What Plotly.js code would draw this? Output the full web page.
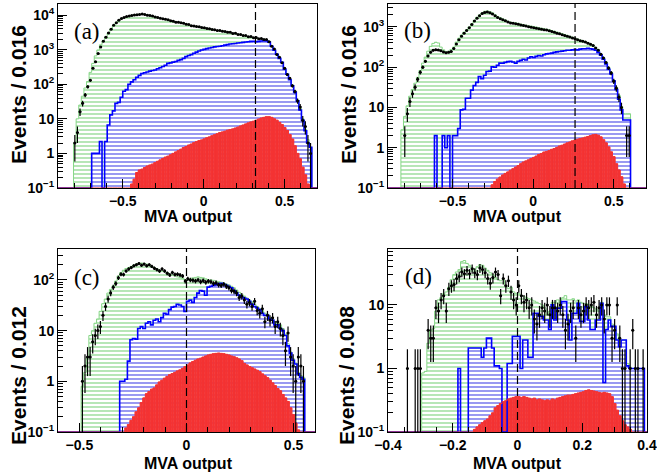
<!DOCTYPE html>
<html><head><meta charset="utf-8">
<script src="https://cdn.plot.ly/plotly-3.0.1.min.js"></script>
<style>html,body{margin:0;padding:0;background:#fff}#chart{width:657px;height:474px}</style>
</head><body><div id="chart"></div>
<script>
// ---------------- data (events per bin, 100 bins per panel) ----------------
const aGreen = [0,0,0,0,0,0,2,10,25,45,
 78,120,220,400,660,980,1380,1820,2340,3020,
 3980,5000,6000,7080,7940,8500,9100,9400,9800,10000,
 10200,10500,10700,10400,10000,9800,9300,8900,8500,8100,
 7800,7600,7250,6900,6600,6300,6150,6000,5750,5500,
 5250,5000,4800,4700,4550,4400,4250,4150,4000,3900,
 3700,3600,3550,3450,3300,3250,3150,3000,2950,2800,
 2700,2600,2500,2400,2350,2250,2200,2100,2050,2000,
 1900,1750,1300,1000,760,575,440,280,200,140,
 95,60,35,20,10,5,2.5,1.5,0,0];
const aBlue = [0,0,0,0,0,0,0,0,0,0,
 0,0,0,1,1,1,2.2,0,2.2,6.6,
 13,17,28,30,42,63,70,100,117,135,
 160,180,205,215,225,240,250,257,280,300,
 325,355,400,415,435,455,490,515,560,630,
 680,720,790,850,910,980,1020,1070,1120,1150,
 1200,1230,1260,1300,1350,1400,1450,1480,1510,1550,
 1580,1620,1660,1700,1740,1750,1700,1730,1780,1820,
 1800,1650,1250,960,740,560,430,270,195,135,
 90,58,33,18,9,4.5,2,1.5,0,0];
const aRed = [0,0,0,0,0,0,0,0,0,0,
 0,0,0,0,0,0,0,0,0,0,
 0,0,0,0,0,0,0,0,0.13,0.18,
 0.28,0.33,0.35,0.39,0.43,0.46,0.49,0.54,0.59,0.65,
 0.71,0.78,0.83,0.91,1.0,1.1,1.2,1.32,1.48,1.58,
 1.74,1.86,2.04,2.19,2.34,2.45,2.63,2.82,3.0,3.24,
 3.47,3.7,3.98,4.17,4.37,4.68,4.9,5.1,5.4,5.75,
 6.2,6.6,7.1,7.6,8.1,8.5,9.1,9.8,10.5,11,
 11.5,11.5,11,10,9.1,7.9,6.8,5.6,4.6,3.5,
 2.6,1.66,1.0,0.7,0.4,0.24,0.13,0,0,0];
const aData = [0,0,0,0,0,0,2,4,16,28,
 49,85,130,290,450,770,1200,1750,2300,3050,
 3900,5050,5950,7100,7900,8550,9050,9450,9750,10050,
 10150,10450,10650,10450,9950,9750,9350,8850,8550,8050,
 7850,7550,7300,6850,6650,6250,6200,5950,5800,5450,
 5300,4950,4850,4650,4600,4350,4300,4100,4050,3850,
 3750,3550,3600,3400,3350,3200,3200,2950,3000,2750,
 2750,2550,2550,2350,2400,2200,2250,2050,2100,1950,
 1950,1700,1250,1050,720,600,420,290,190,150,
 90,62,33,22,9,6,2,1,0,0];

const bGreen = [0,0,0,0,0,2.8,6,11,19,28,
 40,56,83,126,178,250,330,390,417,400,
 316,270,245,250,275,316,420,525,630,740,
 850,1000,1200,1450,1740,2000,2240,2450,2500,2400,
 2240,2000,1820,1700,1580,1480,1380,1320,1290,1260,
 1230,1175,1150,1100,1070,1050,1020,990,960,930,
 900,875,850,810,780,745,710,680,650,615,
 585,555,525,500,475,457,430,405,380,355,
 310,270,215,175,135,100,76,48,32,20,
 10.5,7,7,7,0,0,0,0,0,0];
const bBlue = [0,0,0,0,0,0,0,0,0,0,
 0,0,0,0,0,0,0,0,2,0,
 0,2,1,2,0,2,2,3,8.7,9,
 17,17,27,35,42,59,52,63,78,80,
 102,100,112,126,126,132,138,141,135,126,
 141,148,158,151,170,182,174,186,195,190,
 204,214,219,224,234,240,245,251,257,263,
 263,269,275,269,282,288,288,295,288,282,
 263,234,200,158,120,89,68,46,28,16,
 8.7,4.9,4.9,4.9,0,0,0,0,0,0];
const bRed = [0,0,0,0,0,0,0,0,0,0,
 0,0,0,0,0,0,0,0,0,0,
 0,0,0,0,0,0,0,0,0,0,
 0,0,0,0,0,0,0,0,0,0,
 0.12,0.145,0.166,0.186,0.21,0.23,0.25,0.275,0.30,0.33,
 0.36,0.40,0.44,0.47,0.5,0.54,0.575,0.62,0.68,0.72,
 0.78,0.81,0.85,0.91,0.955,1.02,1.1,1.15,1.23,1.32,
 1.38,1.48,1.55,1.62,1.7,1.74,1.82,1.9,2.0,2.09,
 2.14,2.04,1.86,1.58,1.32,1.05,0.79,0.6,0.4,0.28,
 0.19,0.126,0,0,0,0,0,0,0,0];
const bData = [0,0,0,0,0,0,2,7,14,22,
 32,50,75,100,140,190,235,262,270,268,
 255,240,228,236,245,290,375,480,590,700,
 820,960,1150,1400,1650,1900,2150,2300,2350,2250,
 2100,1900,1720,1600,1500,1420,1330,1260,1230,1200,
 1170,1120,1090,1050,1010,990,960,930,905,880,
 850,835,800,770,740,700,675,640,610,585,
 560,530,510,480,455,440,420,395,370,345,
 300,265,210,170,130,95,72,45,30,18,
 10,0,2,2,0,0,0,0,0,0];

const cGreen = [0,0,0,0,0,0,0,0,0,0.8,
 1.5,3,8,10,14,17,24,34,42,55,
 65,76,95,120,140,155,168,175,185,195,
 205,210,215,210,205,195,185,175,165,155,
 150,145,140,130,125,120,115,112,108,100,
 100,105,110,112,115,112,110,105,100,100,
 98,95,92,90,87,83,80,75,70,63,
 57,52,48,44,40,37,33,30,27,25,
 22,21,18,17,15,14,13,11,8.5,5.5,
 3.8,2.8,2.3,1.5,1.3,1.2,0,0,0,0];
const cBlue = [0,0,0,0,0,0,0,0,0,0,
 0,0,0,0,0,0,0,0,0,0,
 0,0,0,0,1,1,1.1,2.5,6.6,7,
 6.8,11,12,11,14,15,13,16,17,15,
 18,22,21,26,29,30,33,32,30,24,
 38,40,36,45,55,62,60,50,72,75,
 78,80,84,86,82,78,74,70,62,55,
 50,46,44,42,38,33,30,28,26,22,
 20,20,17,16,13,13,11,10,8,5,
 3.6,2.6,2.2,1.4,1.2,1.1,0,0,0,0];
const cRed = [0,0,0,0,0,0,0,0,0,0,
 0,0,0,0,0,0,0,0,0,0,
 0,0,0,0,0,0,0.12,0.14,0.17,0.2,
 0.25,0.3,0.38,0.47,0.57,0.63,0.7,0.74,0.85,0.97,
 1.05,1.15,1.25,1.35,1.42,1.5,1.6,1.68,1.8,1.95,
 2.1,2.3,2.45,2.6,2.75,2.85,3.0,3.15,3.3,3.4,
 3.5,3.55,3.6,3.55,3.5,3.4,3.3,3.15,3.05,2.9,
 2.75,2.55,2.25,2.1,1.95,1.85,1.75,1.65,1.55,1.4,
 1.28,1.18,1.05,0.93,0.82,0.72,0.65,0.55,0.47,0.4,
 0.3,0.22,0.15,0.11,0,0,0,0,0,0];
const cData = [0,0,0,0,0,0,0,0,0,1,
 2,3,3,6,8,10,12,20,30,42,
 55,72,85,110,130,128,150,165,175,190,
 200,210,195,205,190,200,185,170,160,150,
 165,150,135,125,140,128,130,125,120,95,
 105,100,98,95,100,92,97,90,95,92,
 85,88,80,78,82,75,70,62,60,55,
 45,48,40,33,36,30,38,25,22,27,
 15,20,16,18,12,15,11,8,4,9,
 3,2,1,3,2,1,0,0,0,0];

const dGreen = [0,0,0,0,0,0,0,0,0,0,
 0,0,0,0.85,0.9,2.5,4,4.2,8,12,
 13,15,16,19,25,30,33,36,48,50,
 45,42,38,36,40,43,42,38,35,32,
 30,27,25,24,25,20,18,19,16,15,
 15,14,13.5,13,12.5,12,11.5,11,10.5,10,
 9,7,8,11,11,12,11,13,14,12,
 12,12.5,11.5,12,11,10.5,10.5,10,9.5,9,
 8.5,8,11,7,6.5,6.5,5,4.6,3.5,2.8,
 2.8,2.8,1.2,1.05,1,1,1,1,1,0];
const dBlue = [0,0,0,0,0,0,0,0,0,0,
 0,0,0,0,0,0,0,0,0,0,
 0,0,0,0,0,0,0,1,0,0,
 0,2.1,2.1,2.1,2.1,2.1,1.5,2.1,3,3,
 2.1,1.1,1.1,1,0,0,1.2,1.2,3.2,3.2,
 3.2,1,2.8,2.8,1.5,1.5,7.4,7.4,6.6,6.6,
 5.8,5.8,4.1,10,5.8,8.9,8.9,11.3,11.3,5.8,
 2.8,7.4,7.4,10.6,5.5,5.5,9.4,5.8,4.1,4.1,
 5.8,5.8,10.6,0.6,4.1,5.8,4.6,4.6,2.8,2.2,
 2.8,2.8,1.1,1,1,1,1,1,1,0];
const dRed = [0,0,0,0,0,0,0,0,0,0,
 0,0,0,0,0,0,0,0,0,0,
 0,0,0,0,0,0,0,0,0,0,
 0,0,0,0.11,0.12,0.13,0.14,0.15,0.16,0.18,
 0.2,0.24,0.26,0.28,0.3,0.31,0.33,0.34,0.35,0.36,
 0.36,0.35,0.36,0.35,0.34,0.33,0.34,0.32,0.33,0.32,
 0.31,0.32,0.31,0.33,0.32,0.34,0.35,0.36,0.37,0.38,
 0.38,0.39,0.4,0.41,0.42,0.43,0.45,0.46,0.45,0.44,
 0.43,0.42,0.41,0.42,0.41,0.4,0.36,0.28,0.22,0.18,
 0.15,0.13,0.12,0.11,0,0,0,0,0,0];
const dData = [0,0,0,0,0,0,0,1,0,0,
 1,1,1,0,0,4,3,3,9,8,
 12,14,8,18,20,21,26,28,33,31,
 35,31,37,32,30,38,36,32,26,22,
 27,33,30,14,26,20,24,16,12,10,
 20,14,11,12,9,10,6,5,7,9,
 8,10,7,9,9,8,10,7,4,5,
 8,9,3,9,7,8,10,9,10,11,
 7,9,10,6,10,10,3,4,10,3,
 1,1,0,1,4,1,1,0,1,0];

// ---------------- labels / axes ----------------
const panelLabels = ['(a)', '(b)', '(c)', '(d)'];
const xTitle = 'MVA output';
const yTitles = ['Events / 0.016', 'Events / 0.016', 'Events / 0.012', 'Events / 0.008'];
const binLow = [-0.9, -0.9, -0.6, -0.4];
const binWidth = [0.016, 0.016, 0.012, 0.008];
const cutValues = [0.32, 0.26, 0, 0];
const xTickVals = [[-0.5, 0, 0.5], [-0.5, 0, 0.5], [-0.5, 0, 0.5], [-0.4, -0.2, 0, 0.2, 0.4]];
const yTickVals = [[0.1, 1, 10, 100, 1000, 10000], [0.1, 1, 10, 100, 1000], [0.1, 1, 10, 100], [0.1, 1, 10]];
const yTickText = [
  ['10<sup>\u22121</sup>', '1', '10', '10<sup>2</sup>', '10<sup>3</sup>', '10<sup>4</sup>'],
  ['10<sup>\u22121</sup>', '1', '10', '10<sup>2</sup>', '10<sup>3</sup>'],
  ['10<sup>\u22121</sup>', '1', '10', '10<sup>2</sup>'],
  ['10<sup>\u22121</sup>', '1', '10']];

// ---------------- styling / geometry ----------------
const W = 657, H = 474;
const boxes = [{l:58, r:317, t:4, b:188}, {l:388, r:646, t:4, b:188},
               {l:58, r:315, t:249, b:432}, {l:388, r:647, t:249, b:432}];
const xRanges = [[-0.9, 0.7], [-0.9, 0.7], [-0.6, 0.6], [-0.4, 0.4]];
const yRanges = [[-1, 4.32], [-1, 3.57], [-1, 2.61], [-1, 1.88]];
const xMinorStep = [0.1, 0.1, 0.1, 0.05];
const labelPos = [[87, 32], [417, 31], [87, 277], [418, 276]];
const xTitlePos = [[188, 216], [517, 216], [188, 463], [517, 463]];
const yTitlePos = [[18, 95], [348, 95], [18, 376], [346, 376]];
const GREEN = '#86d686', BLUE_H = '#5555e8', BLUE = '#0000ff', RED = '#f43333';
const FONT = 'Liberation Sans, Arial, sans-serif';

const panelData = [[aGreen, aBlue, aRed, aData], [bGreen, bBlue, bRed, bData],
                   [cGreen, cBlue, cRed, cData], [dGreen, dBlue, dRed, dData]];

const traces = [];
const layout = {
  width: W, height: H, margin: {l:0, r:0, t:0, b:0},
  paper_bgcolor: 'white', plot_bgcolor: 'white', showlegend: false,
  barmode: 'overlay', bargap: 0, shapes: [], annotations: []
};

function toNull(v) { return v > 0 ? v : null; }

panelData.forEach((set, i) => {
  const [green, blue, red, data] = set;
  const sfx = i === 0 ? '' : String(i + 1);
  const xa = 'x' + sfx, ya = 'y' + sfx;
  const lo = binLow[i], bw = binWidth[i], n = green.length;
  const centers = green.map((_, k) => +(lo + bw * (k + 0.5)).toFixed(6));
  const floor = Math.pow(10, yRanges[i][0]);
  function step(vals) {
    const xs = [lo], ys = [floor];
    vals.forEach((v, k) => { xs.push(+(lo + bw * k).toFixed(6)); ys.push(v > 0 ? v : floor); });
    xs.push(+(lo + bw * n).toFixed(6)); ys.push(floor);
    return {xs, ys};
  }
  function hatchBar(vals, col) {
    return {type: 'bar', x: centers, y: vals.map(toNull), width: bw, xaxis: xa, yaxis: ya,
      marker: {color: 'white', line: {width: 0},
        pattern: {shape: '-', fgcolor: col, bgcolor: 'white', size: 4, solidity: 0.3, fillmode: 'replace'}},
      hoverinfo: 'skip'};
  }
  function stepLine(vals, col, w) {
    const s = step(vals);
    return {type: 'scatter', mode: 'lines', x: s.xs, y: s.ys, xaxis: xa, yaxis: ya,
      line: {shape: 'hv', color: col, width: w}, hoverinfo: 'skip'};
  }
  traces.push(hatchBar(green, GREEN));
  traces.push(stepLine(green, GREEN, 1));
  traces.push(hatchBar(blue, BLUE_H));
  traces.push(stepLine(blue, BLUE, 1.6));
  traces.push({type: 'bar', x: centers, y: red.map(toNull), width: bw, xaxis: xa, yaxis: ya,
    marker: {color: RED, line: {width: 0.6, color: RED}}, hoverinfo: 'skip'});
  traces.push(stepLine(red, RED, 1));
  traces.push({type: 'scatter', mode: 'markers', x: centers, y: data.map(toNull), xaxis: xa, yaxis: ya,
    marker: {color: 'black', size: 3},
    error_y: {type: 'sqrt', color: 'black', thickness: 1.2, width: 0},
    error_x: {type: 'constant', value: bw / 2, color: 'black', thickness: 1.2, width: 0},
    hoverinfo: 'skip'});

  const bx = boxes[i];
  const minorY = [];
  for (let d = Math.floor(yRanges[i][0]); d < Math.ceil(yRanges[i][1]); d++)
    for (let m = 2; m <= 9; m++) minorY.push(m * Math.pow(10, d));
  layout['xaxis' + sfx] = {
    domain: [bx.l / W, bx.r / W], range: xRanges[i], anchor: ya,
    tickmode: 'array', tickvals: xTickVals[i], ticks: 'inside', ticklen: 9, tickwidth: 1, tickcolor: 'black',
    minor: {dtick: xMinorStep[i], tick0: 0, ticks: 'inside', ticklen: 5, tickcolor: 'black'},
    showline: true, linecolor: 'black', linewidth: 1, mirror: true,
    showgrid: false, zeroline: false,
    tickfont: {family: FONT, size: 14, color: 'black', weight: 'bold'}
  };
  layout['yaxis' + sfx] = {
    domain: [1 - bx.b / H, 1 - bx.t / H], type: 'log', range: yRanges[i], anchor: xa,
    tickmode: 'array', tickvals: yTickVals[i], ticktext: yTickText[i],
    ticks: 'inside', ticklen: 9, tickwidth: 1, tickcolor: 'black',
    minor: {tickmode: 'array', tickvals: minorY, ticks: 'inside', ticklen: 5, tickcolor: 'black'},
    showline: true, linecolor: 'black', linewidth: 1, mirror: true,
    showgrid: false, zeroline: false,
    tickfont: {family: FONT, size: 14, color: 'black', weight: 'bold'}
  };
  layout.shapes.push({type: 'line', xref: xa, yref: ya + ' domain', x0: cutValues[i], x1: cutValues[i],
    y0: 0, y1: 1, line: {color: 'black', width: 1.2, dash: '8px,4px'}, layer: 'above'});
  layout.annotations.push({xref: 'paper', yref: 'paper', x: labelPos[i][0] / W, y: 1 - labelPos[i][1] / H,
    text: panelLabels[i], showarrow: false, xanchor: 'center', yanchor: 'middle',
    font: {family: 'Liberation Serif, Times New Roman, serif', size: 23, color: 'black'}});
  layout.annotations.push({xref: 'paper', yref: 'paper', x: xTitlePos[i][0] / W, y: 1 - xTitlePos[i][1] / H,
    text: xTitle, showarrow: false, xanchor: 'center', yanchor: 'middle',
    font: {family: FONT, size: 16, color: 'black', weight: 'bold'}});
  layout.annotations.push({xref: 'paper', yref: 'paper', x: yTitlePos[i][0] / W, y: 1 - yTitlePos[i][1] / H,
    text: yTitles[i], showarrow: false, xanchor: 'center', yanchor: 'middle', textangle: -90,
    font: {family: FONT, size: 21, color: 'black', weight: 'bold'}});
});

Plotly.newPlot('chart', traces, layout, {staticPlot: true, displayModeBar: false});
</script>
</body></html>
